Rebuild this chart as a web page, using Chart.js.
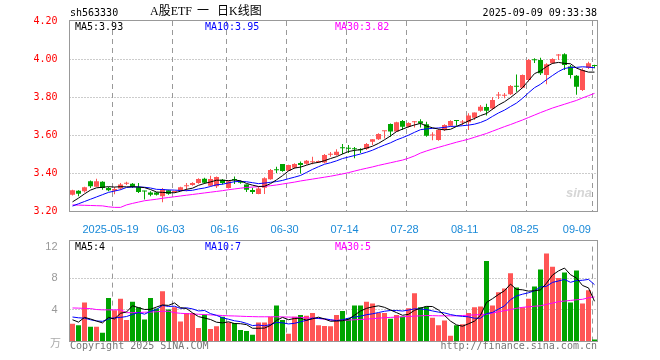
<!DOCTYPE html>
<html>
<head>
<meta charset="utf-8">
<script src="https://cdn.jsdelivr.net/npm/chart.js@4.4.1/dist/chart.umd.min.js"></script>
<style>
body { margin: 0; background: #fff; }
#wrap { position: relative; width: 660px; height: 360px; overflow: hidden; background: #fff;
        font-family: "DejaVu Sans Mono", monospace; font-size: 10px; }
canvas { position: absolute; left: 0; }
.t { position: absolute; white-space: pre; line-height: 10px; }
.cn { position: absolute; white-space: pre; font-size: 12px; line-height: 12px; top: 5px; color: #000;
      font-family: 'Liberation Serif', 'Noto Sans CJK SC', serif; }
.frame { position: absolute; border: 1px solid #999; box-sizing: border-box; pointer-events: none; }
</style>
</head>
<body>
<div id="wrap">
  <canvas id="kline" width="660" height="236" style="top:0"></canvas>
  <canvas id="vol" width="660" height="124" style="top:236px"></canvas>
  <div class="frame" style="left:69px;top:20px;width:529px;height:192px"></div>
  <div class="frame" style="left:69px;top:240px;width:529px;height:102px"></div>

  <div class="t" style="left:70px;top:8px;color:#000">sh563330</div>
  <div class="cn" style="left:150px">A股ETF</div>
  <div class="cn" style="left:197px">一</div>
  <div class="cn" style="left:217px">日K线图</div>
  <div class="t" style="right:63px;top:8px;color:#000">2025-09-09 09:33:38</div>

  <div class="t" style="left:75px;top:22px;color:#000">MA5:3.93</div>
  <div class="t" style="left:205px;top:22px;color:#0000ff">MA10:3.95</div>
  <div class="t" style="left:335px;top:22px;color:#ff00ff">MA30:3.82</div>

  <div class="t" style="left:75px;top:242px;color:#000">MA5:4</div>
  <div class="t" style="left:205px;top:242px;color:#0000ff">MA10:7</div>
  <div class="t" style="left:335px;top:242px;color:#ff00ff">MA30:5</div>

  <div class="t" style="left:566px;top:186px;font:italic bold 13px 'Liberation Sans',sans-serif;line-height:13px;color:#d6d6d6">sina</div>
  <div class="t" style="left:50px;top:337px;font-size:11px;font-family:'Noto Sans CJK SC',sans-serif;color:#aaa">万</div>
  <div class="t" style="left:70px;top:341px;color:#777">Copyright 2025 SINA.COM</div>
  <div class="t" style="right:63px;top:341px;color:#777">http://finance.sina.com.cn</div>
</div>

<script>
// 日K数据
const dates = [
  '05-08','05-09','05-12','05-13','05-14','05-15','05-16',
  '05-19','05-20','05-21','05-22','05-23','05-26','05-27','05-28','05-29','05-30',
  '06-03','06-04','06-05','06-06','06-09','06-10','06-11','06-12','06-13',
  '06-16','06-17','06-18','06-19','06-20','06-23','06-24','06-25','06-26','06-27',
  '06-30','07-01','07-02','07-03','07-04','07-07','07-08','07-09','07-10','07-11',
  '07-14','07-15','07-16','07-17','07-18','07-21','07-22','07-23','07-24','07-25',
  '07-28','07-29','07-30','07-31','08-01','08-04','08-05','08-06','08-07','08-08',
  '08-11','08-12','08-13','08-14','08-15','08-18','08-19','08-20','08-21','08-22',
  '08-25','08-26','08-27','08-28','08-29','09-01','09-02','09-03','09-04','09-05',
  '09-08','09-09'
];

const open = [
  3.286,3.307,3.304,3.356,3.328,3.354,3.321,3.307,3.319,3.344,
  3.344,3.325,3.305,3.298,3.298,3.277,3.309,3.300,3.307,3.330,
  3.337,3.347,3.370,3.333,3.330,3.365,3.321,3.365,3.356,3.339,
  3.311,3.290,3.323,3.367,3.418,3.447,3.412,3.427,3.453,3.449,
  3.457,3.455,3.455,3.496,3.495,3.532,3.530,3.527,3.522,3.527,
  3.565,3.577,3.620,3.658,3.619,3.674,3.644,3.667,3.672,3.656,
  3.598,3.574,3.626,3.649,3.677,3.666,3.667,3.691,3.728,3.747,
  3.740,3.808,3.806,3.814,3.856,3.849,3.889,3.995,3.995,3.916,
  3.977,4.018,4.025,3.960,3.912,3.837,3.954,3.968
];
const high = [
  3.312,3.309,3.328,3.361,3.370,3.356,3.326,3.326,3.347,3.354,
  3.347,3.347,3.306,3.304,3.300,3.321,3.312,3.305,3.328,3.347,
  3.351,3.372,3.375,3.386,3.382,3.368,3.360,3.382,3.360,3.340,
  3.323,3.328,3.377,3.421,3.433,3.447,3.444,3.451,3.460,3.468,
  3.486,3.466,3.500,3.510,3.525,3.553,3.547,3.537,3.530,3.558,
  3.577,3.609,3.623,3.661,3.670,3.679,3.667,3.674,3.683,3.670,
  3.614,3.632,3.656,3.677,3.677,3.679,3.714,3.719,3.758,3.765,
  3.800,3.826,3.821,3.863,3.919,3.919,4.000,4.004,4.007,3.977,
  4.004,4.026,4.030,3.968,3.916,3.951,3.986,3.970
];
const low = [
  3.281,3.277,3.298,3.321,3.328,3.312,3.304,3.288,3.312,3.337,
  3.321,3.295,3.260,3.277,3.281,3.246,3.286,3.295,3.304,3.304,
  3.333,3.344,3.344,3.330,3.321,3.339,3.319,3.342,3.344,3.300,
  3.289,3.288,3.290,3.365,3.400,3.407,3.410,3.423,3.398,3.444,
  3.446,3.452,3.451,3.486,3.491,3.500,3.505,3.477,3.505,3.521,
  3.547,3.574,3.582,3.591,3.617,3.626,3.640,3.640,3.640,3.591,
  3.572,3.570,3.621,3.646,3.649,3.653,3.626,3.679,3.723,3.702,
  3.732,3.789,3.793,3.810,3.828,3.846,3.881,3.979,3.916,3.867,
  3.974,3.995,3.942,3.898,3.812,3.832,3.947,3.951
];
const close = [
  3.309,3.291,3.325,3.330,3.356,3.321,3.309,3.316,3.340,3.347,
  3.328,3.300,3.302,3.286,3.286,3.316,3.291,3.302,3.325,3.335,
  3.347,3.368,3.349,3.368,3.379,3.347,3.356,3.363,3.349,3.312,
  3.300,3.319,3.372,3.416,3.414,3.410,3.442,3.447,3.442,3.465,
  3.461,3.463,3.495,3.498,3.512,3.530,3.528,3.525,3.520,3.553,
  3.577,3.605,3.623,3.619,3.667,3.644,3.663,3.670,3.660,3.596,
  3.602,3.626,3.653,3.674,3.674,3.668,3.702,3.718,3.749,3.728,
  3.784,3.811,3.809,3.858,3.854,3.916,3.995,3.993,3.925,3.972,
  4.000,4.021,3.968,3.916,3.854,3.942,3.977,3.963
];

const ma5 = [
  3.248,3.268,3.290,3.310,3.322,3.325,3.328,3.326,3.328,3.327,
  3.328,3.326,3.323,3.313,3.300,3.298,3.296,3.296,3.304,3.314,
  3.320,3.335,3.345,3.353,3.362,3.362,3.360,3.363,3.359,3.345,
  3.336,3.329,3.330,3.344,3.364,3.386,3.411,3.426,3.431,3.441,
  3.451,3.456,3.465,3.476,3.486,3.500,3.513,3.519,3.523,3.531,
  3.541,3.556,3.575,3.595,3.618,3.631,3.643,3.653,3.661,3.647,
  3.638,3.631,3.627,3.630,3.645,3.659,3.674,3.687,3.702,3.713,
  3.736,3.758,3.775,3.797,3.822,3.849,3.886,3.923,3.937,3.960,
  3.977,3.982,3.977,3.975,3.952,3.940,3.931,3.931
];
const ma10 = [
  3.226,3.238,3.250,3.262,3.274,3.286,3.298,3.305,3.312,3.324,
  3.326,3.327,3.325,3.321,3.314,3.313,3.311,3.310,3.308,3.307,
  3.309,3.316,3.321,3.329,3.338,3.341,3.348,3.354,3.356,3.354,
  3.349,3.344,3.347,3.351,3.355,3.361,3.370,3.378,3.387,3.403,
  3.419,3.433,3.446,3.454,3.464,3.476,3.484,3.492,3.500,3.509,
  3.520,3.534,3.547,3.559,3.574,3.586,3.599,3.614,3.628,3.632,
  3.635,3.637,3.640,3.645,3.646,3.649,3.652,3.657,3.666,3.679,
  3.698,3.716,3.731,3.750,3.768,3.793,3.822,3.849,3.867,3.891,
  3.913,3.934,3.950,3.956,3.956,3.959,3.957,3.954
];
const ma30 = [
  3.232,3.231,3.230,3.229,3.228,3.227,3.222,3.219,3.219,3.232,
  3.240,3.247,3.254,3.258,3.262,3.267,3.271,3.275,3.279,3.283,
  3.287,3.291,3.295,3.299,3.303,3.307,3.312,3.316,3.320,3.324,
  3.326,3.328,3.330,3.333,3.337,3.342,3.347,3.352,3.358,3.363,
  3.368,3.373,3.378,3.383,3.389,3.395,3.402,3.410,3.418,3.425,
  3.432,3.440,3.447,3.454,3.461,3.468,3.478,3.490,3.505,3.516,
  3.526,3.535,3.544,3.553,3.562,3.570,3.578,3.588,3.598,3.608,
  3.620,3.632,3.644,3.655,3.667,3.679,3.692,3.705,3.718,3.730,
  3.742,3.752,3.762,3.772,3.782,3.795,3.807,3.819
];

// 成交量 (万手)
const volume = [
  2.20,2.00,4.88,1.80,1.80,1.04,5.48,3.90,5.36,2.68,
  5.00,4.28,2.72,5.48,4.12,6.32,4.00,4.28,2.48,3.56,
  3.56,1.64,3.36,1.52,1.88,3.08,2.36,2.28,1.40,1.28,
  0.80,2.36,2.36,3.08,4.52,2.68,0.92,3.08,3.32,3.20,
  3.56,2.00,1.92,1.88,3.32,3.80,2.90,4.52,4.52,5.00,
  4.76,3.56,3.56,2.84,3.32,3.08,4.16,6.08,4.28,4.40,
  2.96,2.00,2.60,0.68,2.00,2.12,3.56,4.28,4.40,10.16,
  4.52,6.20,6.68,8.60,6.80,4.28,5.36,6.92,9.08,11.12,
  9.44,8.00,8.72,4.88,8.96,4.76,6.44,0.20
];
const volMa5 = [
  2.70,2.40,3.00,2.80,2.54,2.30,3.00,2.80,3.52,3.69,
  4.48,4.24,4.01,4.03,4.32,4.58,4.53,4.84,4.24,4.13,
  3.58,3.10,2.92,2.73,2.39,2.30,2.44,2.22,2.20,2.08,
  1.62,1.62,1.64,1.98,2.62,3.00,2.71,2.86,2.90,2.64,
  2.82,3.03,2.80,2.51,2.54,2.58,2.76,3.28,3.81,4.15,
  4.34,4.47,4.28,3.94,3.61,3.27,3.39,3.90,4.18,4.40,
  4.38,3.94,3.25,2.53,2.05,1.88,2.19,2.53,3.27,4.90,
  5.38,5.91,6.39,7.23,6.56,6.51,6.34,6.39,6.49,7.35,
  8.38,8.91,9.27,8.43,8.00,7.06,6.75,5.05
];
const volMa10 = [
  3.05,2.95,2.90,2.70,2.55,2.50,2.80,2.95,3.00,3.11,
  3.39,3.62,3.41,3.77,4.01,4.53,4.39,4.42,4.14,4.22,
  4.08,3.82,3.88,3.48,3.26,2.94,2.77,2.57,2.46,2.24,
  1.96,2.03,1.93,2.09,2.35,2.31,2.17,2.25,2.44,2.63,
  2.91,2.87,2.83,2.71,2.59,2.70,2.90,3.04,3.16,3.34,
  3.46,3.62,3.78,3.88,3.88,3.81,3.93,4.09,4.06,4.00,
  3.82,3.67,3.57,3.36,3.22,3.13,3.07,2.89,2.90,3.48,
  3.63,4.05,4.46,5.25,5.73,5.95,6.13,6.39,6.86,6.96,
  7.45,7.63,7.83,7.46,7.68,7.72,7.83,7.16
];
const volMa30 = [
  4.20,4.18,4.15,4.12,4.00,3.96,3.96,3.96,3.96,3.60,
  3.60,3.62,3.66,3.68,3.72,3.78,3.78,3.60,3.52,3.48,
  3.44,3.40,3.36,3.32,3.28,3.24,3.20,3.18,3.15,3.12,
  3.10,3.08,3.08,3.08,3.08,3.06,3.04,3.02,3.00,2.95,
  2.90,2.85,2.78,2.65,2.62,2.64,2.66,2.70,2.74,2.78,
  2.84,2.90,2.96,3.00,3.04,3.08,3.12,3.16,3.20,3.24,
  3.22,3.20,3.20,3.20,3.20,3.24,3.28,3.32,3.36,3.40,
  3.55,3.72,3.85,4.00,4.15,4.28,4.35,4.42,4.48,4.65,
  4.82,5.00,5.08,5.16,5.24,5.30,5.50,5.60
];

// 坐标轴刻度
const priceTicks = [3.2, 3.4, 3.6, 3.8, 4.0, 4.2];
const volTicks = [0, 4, 8, 12];
const xTickDates = ['05-19','06-03','06-16','06-30','07-14','07-28','08-11','08-25','09-09'];
const xTickText  = ['2025-05-19','06-03','06-16','06-30','07-14','07-28','08-11','08-25','09-09'];

const UP = '#ff5555';
const DOWN = '#00a400';
const GRID = '#999999';

const candleColors = close.map((c, i) => c >= open[i] ? UP : DOWN);
const xy = arr => arr.map((v, i) => ({ x: i, y: v }));

const monoFont = { family: 'DejaVu Sans Mono', size: 10 };

// 网格线: 按坐标轴刻度画 (竖线虚线, 横线点线)
const gridLines = {
    id: 'gridLines',
    beforeDatasetsDraw(chart) {
        const { ctx, chartArea: a, scales: { x, y } } = chart;
        ctx.save();
        ctx.strokeStyle = GRID;
        ctx.lineWidth = 1;
        ctx.setLineDash([5, 4]);
        x.ticks.forEach(t => {
            const px = Math.round(x.getPixelForValue(t.value) - 0.5) + 0.5;
            ctx.beginPath();
            ctx.moveTo(px, a.top);
            ctx.lineTo(px, a.bottom);
            ctx.stroke();
        });
        ctx.setLineDash([1, 2]);
        y.ticks.forEach(t => {
            if (t.value <= y.min || t.value >= y.max) return;
            const py = Math.round(y.getPixelForValue(t.value) - 0.5) + 0.5;
            ctx.beginPath();
            ctx.moveTo(a.left, py);
            ctx.lineTo(a.right, py);
            ctx.stroke();
        });
        ctx.restore();
    }
};

// x 轴: 每根K线占一格, 分隔线画在该日K线左侧
function xScale(showLabels, height) {
    return {
        type: 'linear',
        min: -0.5,
        max: dates.length - 0.5,
        offset: false,
        afterBuildTicks: s => { s.ticks = xTickDates.map(d => ({ value: dates.indexOf(d) - 0.4 })); },
        grid: { display: false, offset: false },
        border: { display: false },
        ticks: {
            display: showLabels,
            autoSkip: false, maxRotation: 0, minRotation: 0,
            labelOffset: -1.5, padding: 4, color: '#1a8ad8',
            font: { family: 'Liberation Sans', size: 11 },
            callback: v => {
                const j = xTickDates.indexOf(dates[Math.round(v + 0.4)]);
                if (j < 0) return '';
                // 最后一个日期靠左放, 不超出边框
                return j === xTickText.length - 1 ? xTickText[j] + '         ' : xTickText[j];
            }
        },
        afterFit: s => { s.height = height; }
    };
}

function yScale(ticks, min, max, tickOpts) {
    return {
        min: min, max: max,
        afterBuildTicks: s => { s.ticks = ticks.map(v => ({ value: v })); },
        grid: { display: false },
        border: { display: false },
        ticks: tickOpts,
        afterFit: s => { s.width = 69.5; }
    };
}

function maLine(data, color) {
    return {
        type: 'line', data: xy(data), borderColor: color, borderWidth: 1,
        pointRadius: 0, tension: 0, fill: false, order: 0
    };
}

function baseOptions(top) {
    return {
        responsive: false,
        animation: false,
        devicePixelRatio: 1,
        layout: { padding: { left: 0, top: top, right: 62.5, bottom: 0 } },
        plugins: { legend: { display: false }, tooltip: { enabled: false } }
    };
}

const kOptions = baseOptions(21);
kOptions.scales = {
    x: xScale(true, 25),
    y: yScale(priceTicks, 3.2, 4.2,
        { color: '#ff0000', font: monoFont, padding: 4, callback: v => Number(v).toFixed(2) })
};

new Chart(document.getElementById('kline'), {
    type: 'bar',
    plugins: [gridLines],
    data: {
        datasets: [
            maLine(ma5, '#000000'),
            maLine(ma10, '#0000ff'),
            maLine(ma30, '#ff00ff'),
            {
                data: open.map((o, i) => ({ x: i, y: [o, close[i]] })),
                backgroundColor: candleColors, barThickness: 5,
                minBarLength: 1, grouped: false, inflateAmount: 0, order: 1
            },
            {
                data: low.map((l, i) => ({ x: i, y: [l, high[i]] })),
                backgroundColor: candleColors, barThickness: 1,
                grouped: false, inflateAmount: 0, order: 2
            }
        ]
    },
    options: kOptions
});

const vOptions = baseOptions(5);
vOptions.scales = {
    x: xScale(false, 19),
    y: yScale(volTicks, 0, 12,
        { color: '#999999', font: { family: 'Liberation Sans', size: 11 }, padding: 4,
          callback: v => v === 0 ? '' : String(v) })
};

new Chart(document.getElementById('vol'), {
    type: 'bar',
    plugins: [gridLines],
    data: {
        datasets: [
            maLine(volMa5, '#000000'),
            maLine(volMa10, '#0000ff'),
            maLine(volMa30, '#ff00ff'),
            {
                data: xy(volume), backgroundColor: candleColors, barThickness: 5,
                grouped: false, inflateAmount: 0, order: 1
            }
        ]
    },
    options: vOptions
});
</script>
</body>
</html>
